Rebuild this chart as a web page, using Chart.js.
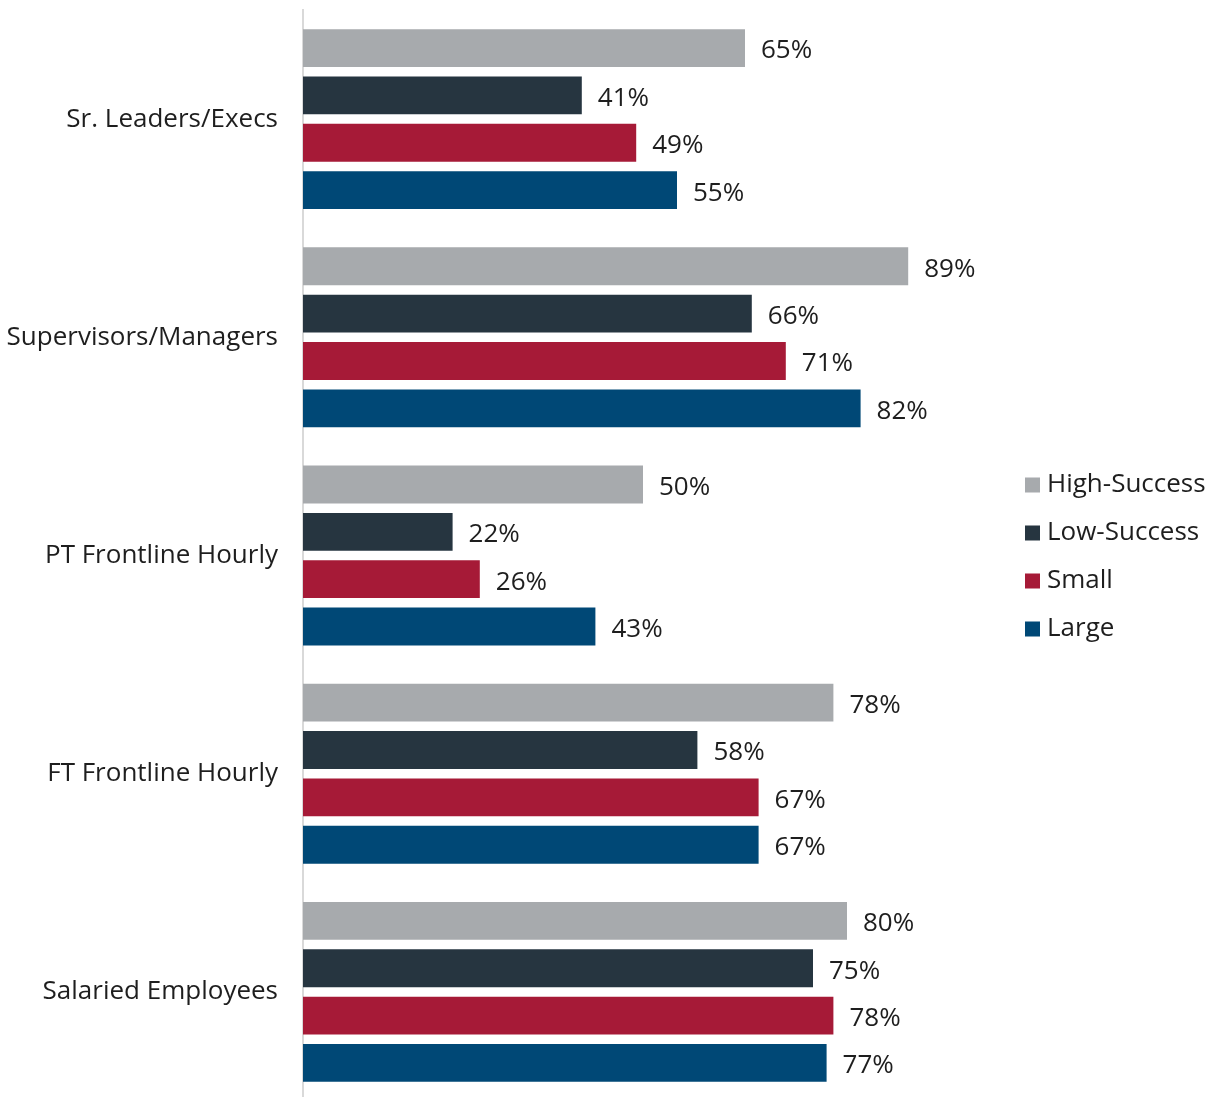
<!DOCTYPE html>
<html>
<head>
    <title>Horizontal Bar Chart</title>
    <script src="https://cdn.jsdelivr.net/npm/chart.js"></script>
    <style>
        html, body { margin: 0; padding: 0; background: #fff; overflow: hidden; }
        #wrap { width: 1217px; height: 1101px; }
    </style>
</head>
<body>
    <div id="wrap">
        <canvas id="barChart"></canvas>
    </div>

    <script>
        // Data
        const categories = ['Sr. Leaders/Execs', 'Supervisors/Managers', 'PT Frontline Hourly', 'FT Frontline Hourly', 'Salaried Employees'];
        const highSuccess = [65, 89, 50, 78, 80];
        const lowSuccess = [41, 66, 22, 58, 75];
        const small = [49, 71, 26, 67, 78];
        const large = [55, 82, 43, 67, 77];

        const FONT = '"Open Sans", "Noto Sans", sans-serif';
        const FONT_SIZE = 26;
        const TEXT = '#1e1e1e';

        // Draw "NN%" labels right of each bar
        const valueLabels = {
            id: 'valueLabels',
            afterDatasetsDraw(chart) {
                const ctx = chart.ctx;
                ctx.save();
                ctx.font = FONT_SIZE + 'px ' + FONT;
                ctx.fillStyle = TEXT;
                ctx.textAlign = 'left';
                ctx.textBaseline = 'middle';
                chart.data.datasets.forEach((ds, i) => {
                    chart.getDatasetMeta(i).data.forEach((bar, j) => {
                        ctx.fillText(ds.data[j] + '%', bar.x + 16, bar.y + 3);
                    });
                });
                ctx.restore();
            }
        };

        // Simple legend column on the right
        const sideLegend = {
            id: 'sideLegend',
            afterDraw(chart) {
                const ctx = chart.ctx;
                const area = chart.chartArea;
                const x = area.right + 42;
                const step = 48;
                const n = chart.data.datasets.length;
                const y0 = chart.height / 2 + 6 - step * (n - 1) / 2;
                ctx.save();
                ctx.font = FONT_SIZE + 'px ' + FONT;
                ctx.textAlign = 'left';
                ctx.textBaseline = 'middle';
                chart.data.datasets.forEach((ds, i) => {
                    const y = y0 + i * step;
                    ctx.fillStyle = ds.backgroundColor;
                    ctx.fillRect(x, y - 7, 15, 15);
                    ctx.fillStyle = TEXT;
                    ctx.fillText(ds.label, x + 22, y);
                });
                ctx.restore();
            }
        };

        const ctx = document.getElementById('barChart').getContext('2d');
        new Chart(ctx, {
            type: 'bar',
            data: {
                labels: categories,
                datasets: [
                    { label: 'High-Success', data: highSuccess, backgroundColor: '#A7AAAD' },
                    { label: 'Low-Success', data: lowSuccess, backgroundColor: '#263540' },
                    { label: 'Small', data: small, backgroundColor: '#A61A37' },
                    { label: 'Large', data: large, backgroundColor: '#004876' }
                ]
            },
            options: {
                indexAxis: 'y',
                responsive: true,
                maintainAspectRatio: false,
                animation: false,
                categoryPercentage: 0.868,
                barPercentage: 0.8,
                layout: { padding: { top: 10, bottom: 0, left: 0, right: 234 } },
                scales: {
                    x: {
                        display: false,
                        min: 0,
                        max: 100
                    },
                    y: {
                        grid: { display: false, drawTicks: false },
                        border: { display: true, color: '#D9D9D9', width: 2 },
                        ticks: {
                            color: TEXT,
                            padding: 25,
                            font: { family: FONT, size: FONT_SIZE }
                        },
                        afterFit(scale) {
                            scale.width = 303;
                            scale.paddingTop = 0;
                            scale.paddingBottom = 0;
                        }
                    }
                },
                plugins: {
                    tooltip: { enabled: false },
                    legend: { display: false }
                }
            },
            plugins: [valueLabels, sideLegend]
        });
    </script>
</body>
</html>
